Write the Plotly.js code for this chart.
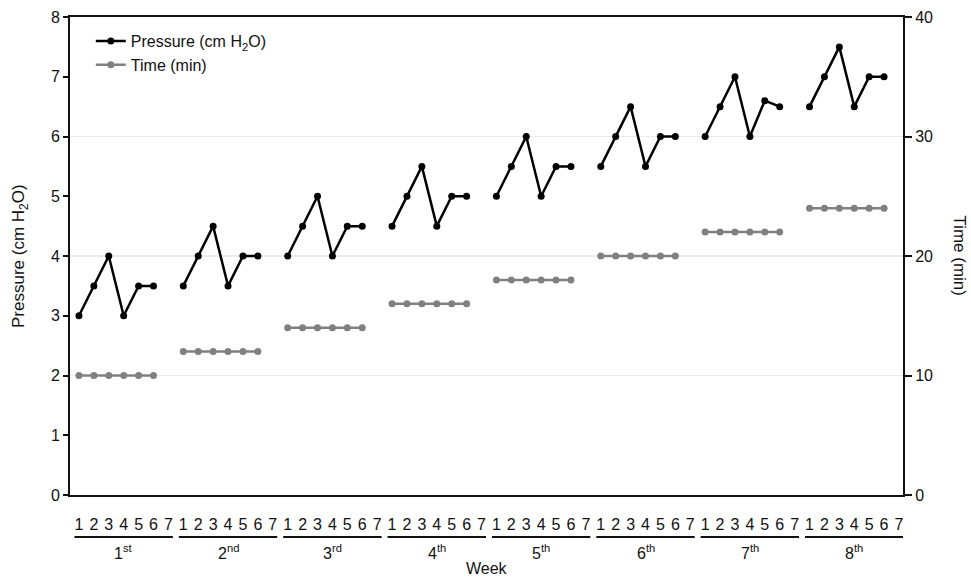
<!DOCTYPE html>
<html>
<head>
<meta charset="utf-8">
<script src="https://cdn.plot.ly/plotly-3.0.1.min.js"></script>
<style>html,body{margin:0;padding:0;background:#fff;}#chart{width:971px;height:578px;}</style>
</head>
<body>
<div id="chart"></div>
<script>
// ---- Data ----
const weekLabels = ["1<sup>st</sup>","2<sup>nd</sup>","3<sup>rd</sup>","4<sup>th</sup>","5<sup>th</sup>","6<sup>th</sup>","7<sup>th</sup>","8<sup>th</sup>"];
const dayLabels = ["1","2","3","4","5","6","7"];
// Pressure (cm H2O) per week, days 1..7 (day 7 not recorded)
const pressureW1 = [3, 3.5, 4, 3, 3.5, 3.5, null];
const pressureW2 = [3.5, 4, 4.5, 3.5, 4, 4, null];
const pressureW3 = [4, 4.5, 5, 4, 4.5, 4.5, null];
const pressureW4 = [4.5, 5, 5.5, 4.5, 5, 5, null];
const pressureW5 = [5, 5.5, 6, 5, 5.5, 5.5, null];
const pressureW6 = [5.5, 6, 6.5, 5.5, 6, 6, null];
const pressureW7 = [6, 6.5, 7, 6, 6.6, 6.5, null];
const pressureW8 = [6.5, 7, 7.5, 6.5, 7, 7, null];
// Time (min) per week, days 1..7
const timeW1 = [10, 10, 10, 10, 10, 10, null];
const timeW2 = [12, 12, 12, 12, 12, 12, null];
const timeW3 = [14, 14, 14, 14, 14, 14, null];
const timeW4 = [16, 16, 16, 16, 16, 16, null];
const timeW5 = [18, 18, 18, 18, 18, 18, null];
const timeW6 = [20, 20, 20, 20, 20, 20, null];
const timeW7 = [22, 22, 22, 22, 22, 22, null];
const timeW8 = [24, 24, 24, 24, 24, 24, null];

const pressure = [].concat(pressureW1, pressureW2, pressureW3, pressureW4, pressureW5, pressureW6, pressureW7, pressureW8);
const time = [].concat(timeW1, timeW2, timeW3, timeW4, timeW5, timeW6, timeW7, timeW8);
const nDays = dayLabels.length;
const xIdx = pressure.map((_, i) => i);
const tickText = xIdx.map(i => dayLabels[i % nDays]);

const font = "Liberation Sans, Arial, sans-serif";
const txt = "#111";

const traces = [
  {x: xIdx, y: pressure, name: "Pressure (cm H<sub>2</sub>O)", mode: "lines+markers",
   line: {color: "#000", width: 2.5}, marker: {color: "#000", size: 7}, connectgaps: false, yaxis: "y"},
  {x: xIdx, y: time, name: "Time (min)", mode: "lines+markers",
   line: {color: "#808080", width: 2.5}, marker: {color: "#808080", size: 7}, connectgaps: false, yaxis: "y2"}
];

const shapes = [];
const annotations = [];
weekLabels.forEach((w, k) => {
  shapes.push({type: "line", xref: "x", yref: "paper", x0: k*nDays - 0.3, x1: k*nDays + nDays - 0.7,
    y0: -0.088, y1: -0.088, line: {color: "#111", width: 2}});
  annotations.push({xref: "x", yref: "paper", x: k*nDays + 3, y: -0.12, text: w, showarrow: false,
    font: {family: font, size: 16, color: txt}, xanchor: "center", yanchor: "middle"});
});
annotations.push({xref: "paper", yref: "paper", x: 0.5, y: -0.153, text: "Week", showarrow: false,
  font: {family: font, size: 16, color: txt}, xanchor: "center", yanchor: "middle"});
annotations.push({xref: "paper", yref: "paper", x: -0.06, y: 0.5, text: "Pressure (cm H<sub>2</sub>O)", showarrow: false,
  textangle: -90, font: {family: font, size: 17, color: txt}, xanchor: "center", yanchor: "middle"});
annotations.push({xref: "paper", yref: "paper", x: 1.068, y: 0.5, text: "Time (min)", showarrow: false,
  textangle: 90, font: {family: font, size: 17, color: txt}, xanchor: "center", yanchor: "middle"});

const layout = {
  width: 971, height: 578,
  margin: {l: 70, r: 68, t: 17, b: 83},
  paper_bgcolor: "#fff", plot_bgcolor: "#fff",
  font: {family: font, size: 16, color: txt},
  showlegend: true,
  legend: {x: 0.025, y: 0.985, xanchor: "left", yanchor: "top", bgcolor: "rgba(0,0,0,0)",
    font: {family: font, size: 16, color: txt}, itemwidth: 30, tracegroupgap: 0},
  xaxis: {range: [-0.6, 55.27], tickmode: "array", tickvals: xIdx, ticktext: tickText,
    showgrid: false, zeroline: false, showline: true, linecolor: "#111", linewidth: 2, mirror: true,
    ticks: "outside", ticklen: 14, tickcolor: "rgba(0,0,0,0)", tickfont: {family: font, size: 16, color: txt}},
  yaxis: {range: [0, 8], dtick: 1, showgrid: false, zeroline: false, showline: true, linecolor: "#111", linewidth: 2,
    ticks: "outside", ticklen: 5, tickwidth: 2, tickcolor: "#111", tickfont: {family: font, size: 16, color: txt}},
  yaxis2: {range: [0, 40], dtick: 10, overlaying: "y", side: "right", showgrid: true, gridcolor: "#ebebeb", gridwidth: 1.5,
    zeroline: false, showline: true, linecolor: "#111", linewidth: 2,
    ticks: "outside", ticklen: 7, tickwidth: 2, tickcolor: "#111", tickfont: {family: font, size: 16, color: txt}},
  shapes: shapes,
  annotations: annotations
};

Plotly.newPlot("chart", traces, layout, {displayModeBar: false, staticPlot: true});
</script>
</body>
</html>
